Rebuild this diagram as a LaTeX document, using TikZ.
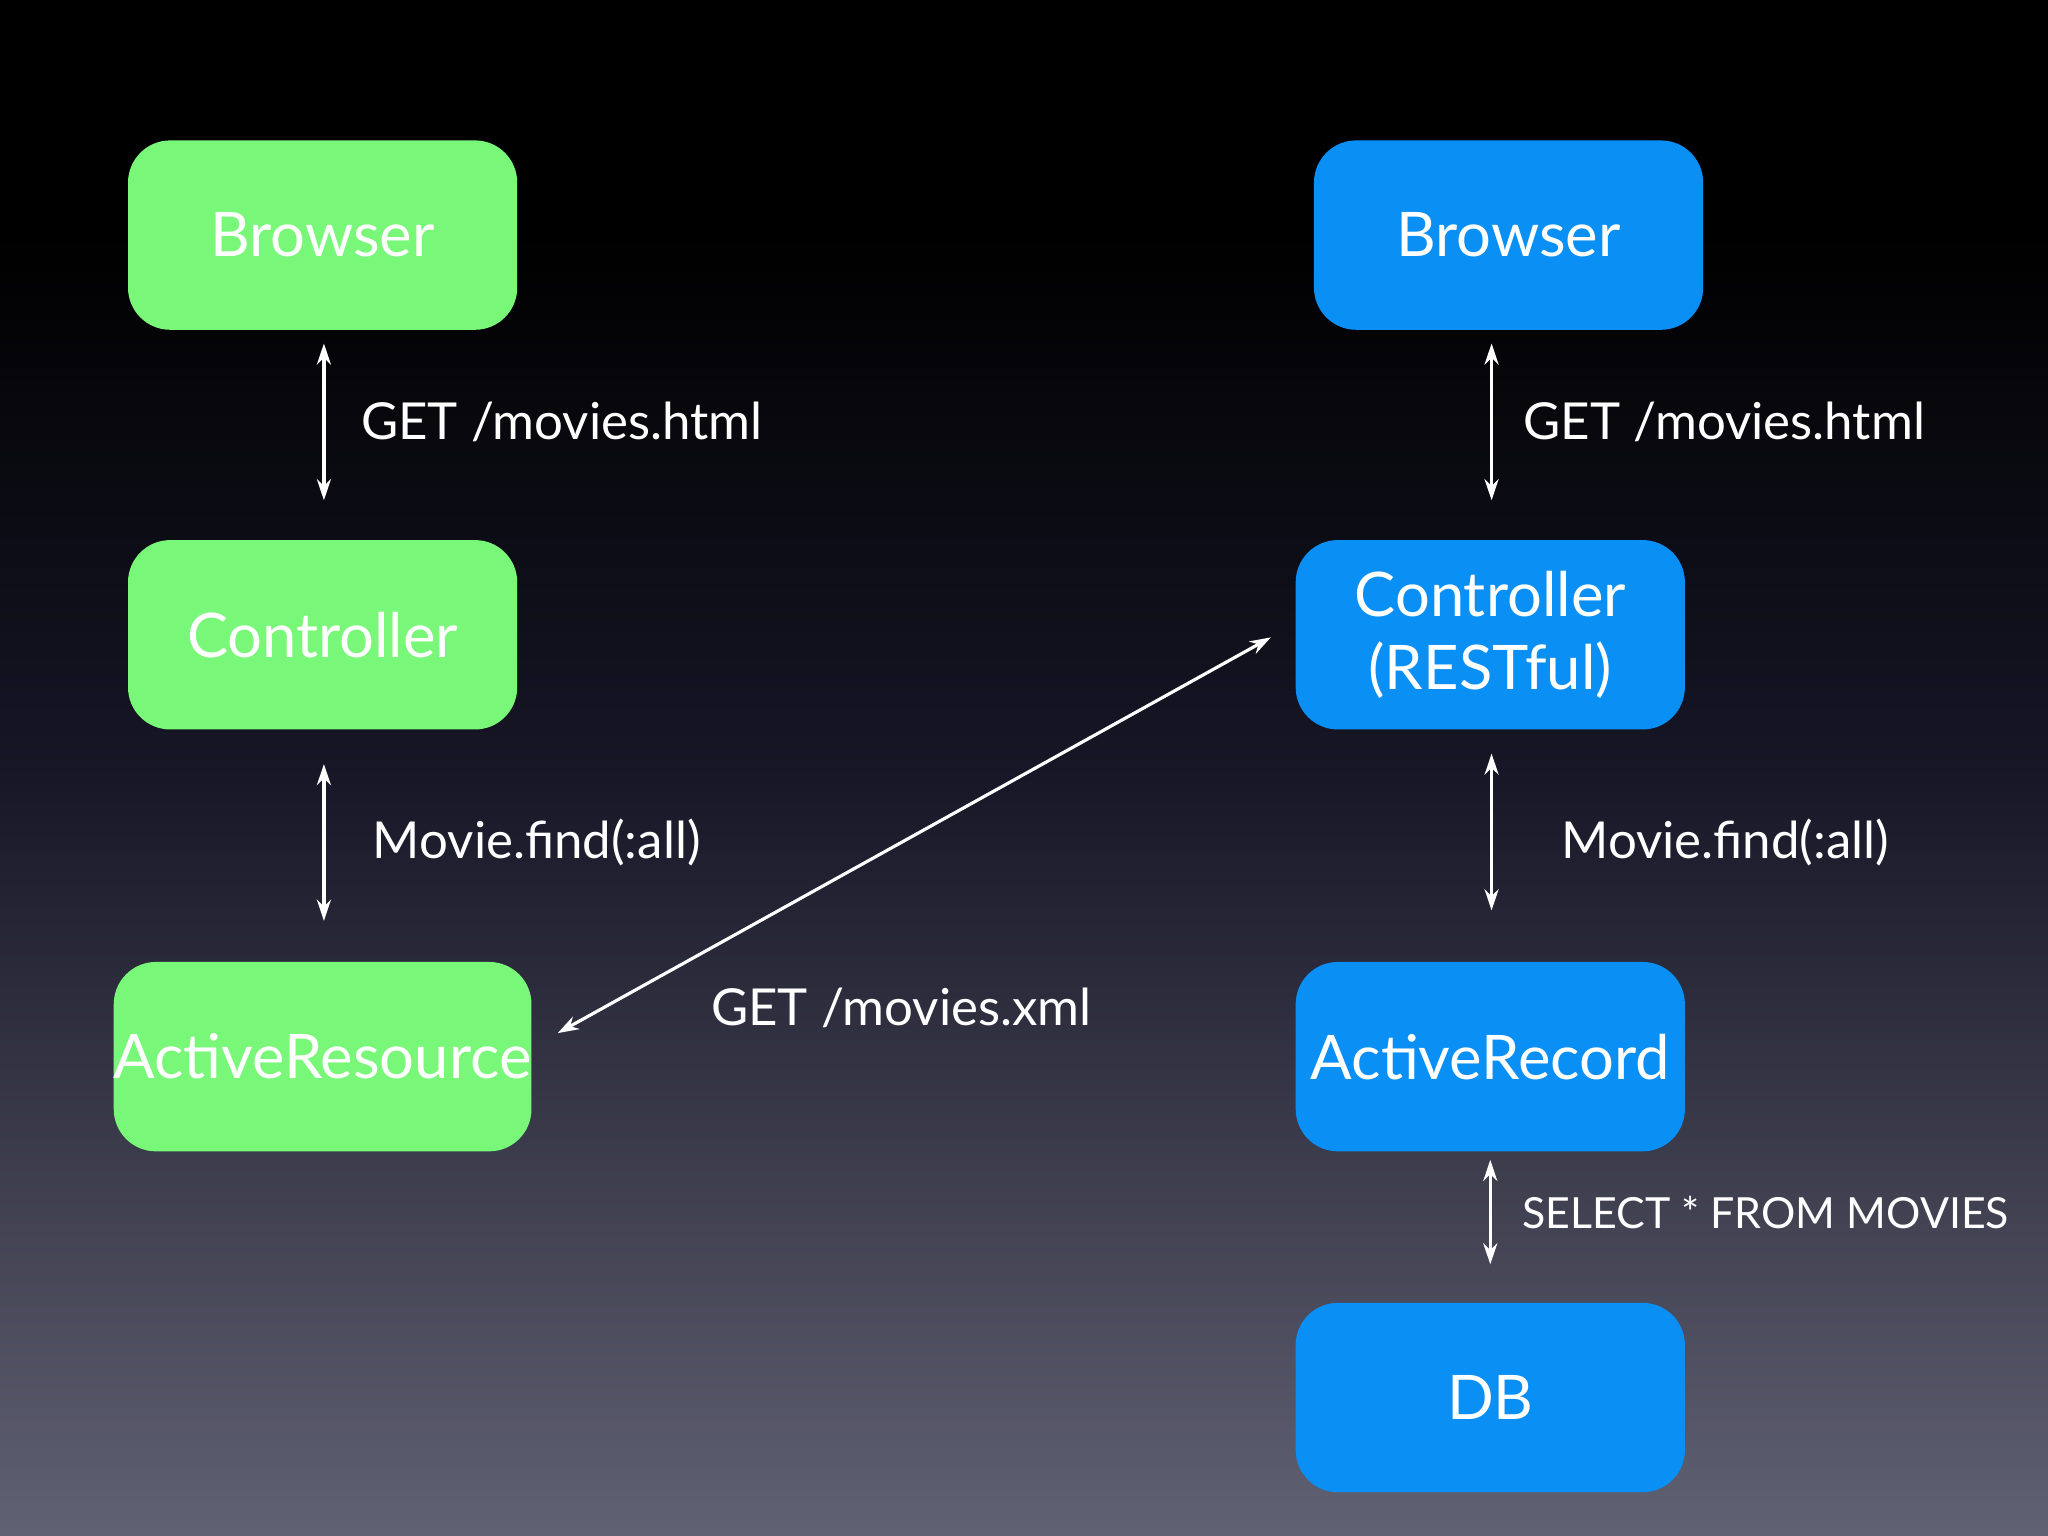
\documentclass[tikz,border=0pt]{standalone}
\usepackage{fontspec}
\setmainfont{Lato}
\begin{document}
\begin{tikzpicture}[x=0.013061cm,y=-0.013061cm,
  box/.style={rounded corners=12pt,minimum width=298*0.013061cm,minimum height=145*0.013061cm,inner sep=0pt,text=white,font=\fontsize{17.5}{21}\selectfont,align=center},
  gbox/.style={box,fill={rgb,255:red,120;green,247;blue,120}},
  bbox/.style={box,fill={rgb,255:red,10;green,143;blue,245}},
  arr/.style={white,line width=0.9pt,{Stealth[length=6pt,width=4pt]}-{Stealth[length=6pt,width=4pt]}},
  lbl/.style={text=white,anchor=west,font=\fontsize{14.5}{17}\selectfont,inner sep=0pt}]
\usetikzlibrary{arrows.meta}
\shade[top color=black,bottom color=black] (0,0) rectangle (1568,180);
\shade[top color=black,bottom color={rgb,255:red,22;green,22;blue,38}] (0,179) rectangle (1568,588);
\shade[top color={rgb,255:red,22;green,22;blue,38},bottom color={rgb,255:red,96;green,97;blue,114}] (0,587) rectangle (1568,1176);
\useasboundingbox (0,0) rectangle (1568,1176);

\node[gbox] (gb) at (247,180) {Browser};
\node[gbox] (gc) at (247,486) {Controller};
\node[gbox,minimum width=314*0.013061cm] (gr) at (247,809) {ActiveResource};
\node[bbox] (bb) at (1155,180) {Browser};
\node[bbox] (bc) at (1141,486) {Controller\\(RESTful)};
\node[bbox] (br) at (1141,809) {ActiveRecord};
\node[bbox] (db) at (1141,1070) {DB};

\coordinate (a1) at (248,263); \coordinate (a2) at (248,383);
\coordinate (b1) at (248,585); \coordinate (b2) at (248,705);
\coordinate (c1) at (1142,263); \coordinate (c2) at (1142,383);
\coordinate (d1) at (1142,577); \coordinate (d2) at (1142,697);
\coordinate (e1) at (1141,888); \coordinate (e2) at (1141,968);
\coordinate (f1) at (427,791); \coordinate (f2) at (973,488);
\draw[arr] (a1) -- (a2);
\draw[arr] (b1) -- (b2);
\draw[arr] (c1) -- (c2);
\draw[arr] (d1) -- (d2);
\draw[arr] (e1) -- (e2);
\draw[arr] (f1) -- (f2);

\node[lbl] (l1) at (276,323) {GET /movies.html};
\node[lbl] (l2) at (285,645) {Movie.find(:all)};
\node[lbl] (l3) at (1166,323) {GET /movies.html};
\node[lbl] (l4) at (1195,645) {Movie.find(:all)};
\node[lbl] (l5) at (544,772) {GET /movies.xml};
\node[lbl,font=\fontsize{12.2}{15}\selectfont] (l6) at (1165,928) {SELECT * FROM MOVIES};
\end{tikzpicture}
\end{document}
